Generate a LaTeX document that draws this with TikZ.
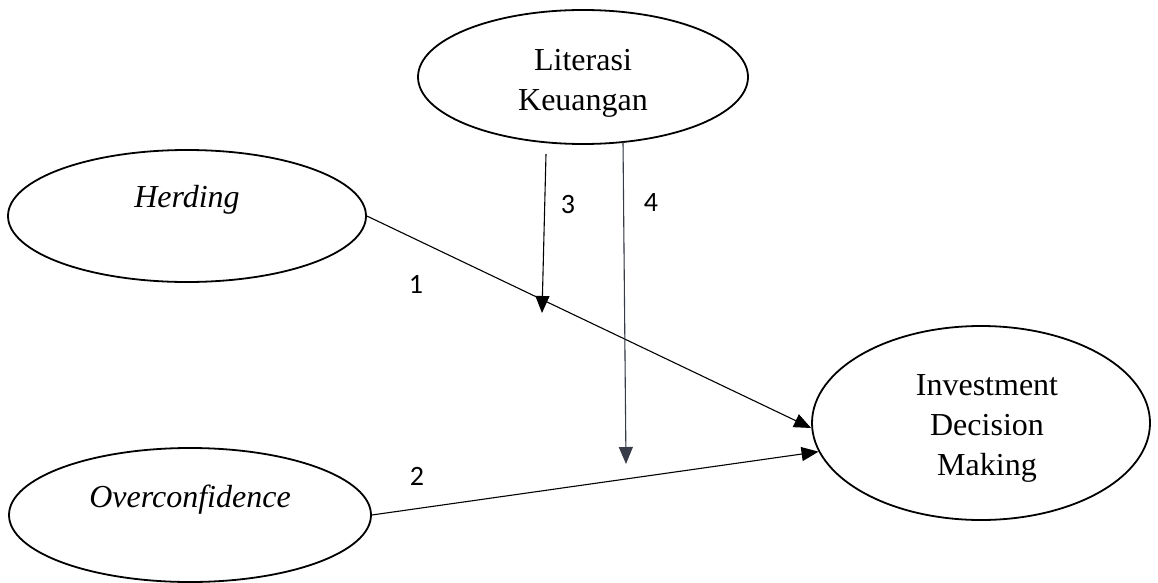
\documentclass[tikz,border=0pt]{standalone}
\usepackage{fontspec}
\setmainfont{Liberation Serif}
\newfontfamily\lblfont{Carlito}
\usetikzlibrary{shapes.geometric,arrows.meta}
\begin{document}
\begin{tikzpicture}[x=1pt,y=-1pt,
  ell/.style={draw=black,line width=1.8pt,ellipse,inner sep=0pt},
  txt/.style={font=\fontsize{32}{40}\selectfont,align=center,inner sep=0pt},
  lbl/.style={font=\lblfont\fontsize{28}{32}\selectfont,inner sep=0pt},
  arr/.style={line width=1.1pt,-{Triangle[length=17pt,width=14pt]}}
]
\useasboundingbox (0,0) rectangle (1158,583);
% ellipses
\node[ell,minimum width=330pt,minimum height=134pt] (lit) at (583,77) {};
\node[ell,minimum width=358pt,minimum height=132pt] (herd) at (187,216) {};
\node[ell,minimum width=362pt,minimum height=134pt] (over) at (190,515) {};
\node[ell,minimum width=338pt,minimum height=194pt] (idm) at (981,423) {};
% texts
\node[txt] (tlit) at (583,83) {Literasi\\Keuangan};
\node[txt] (therd) at (187,200) {\itshape Herding};
\node[txt] (tover) at (190,500) {\itshape Overconfidence};
\node[txt] (tidm) at (987,428) {Investment\\Decision\\Making};
% free ends
\coordinate (a3s) at (546,154);
\coordinate (a3e) at (542,313);
\coordinate (a4s) at (623,142);
\coordinate (a4e) at (626,464);
% connectors
\draw[arr] (herd.east) -- ([yshift=-5pt]idm.west);
\draw[arr] (over.east) -- (idm.190);
\draw[arr] (a3s) -- (a3e);
\draw[arr,draw={rgb,255:red,55;green,60;blue,72},fill={rgb,255:red,40;green,44;blue,56}] (a4s) -- (a4e);
% labels
\node[lbl] (l1) at (416,284) {1};
\node[lbl] (l2) at (417,476) {2};
\node[lbl] (l3) at (568,205) {3};
\node[lbl] (l4) at (651,203) {4};
\end{tikzpicture}
\end{document}
